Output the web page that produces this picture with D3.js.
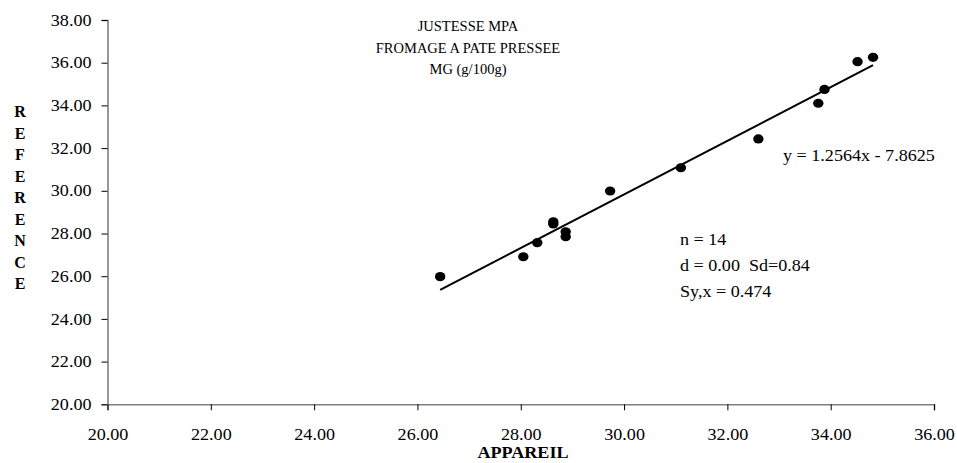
<!DOCTYPE html>
<html>
<head>
<meta charset="utf-8">
<script src="https://cdn.jsdelivr.net/npm/d3@7"></script>
<style>
  html, body { margin: 0; padding: 0; background: #fff; }
  svg { display: block; }
  text { font-family: "Liberation Serif", "Times New Roman", serif; fill: #000; }
</style>
</head>
<body>
<svg id="chart" width="957" height="463"></svg>
<script>
// ---- data ----
const appareil  = [26.44, 28.05, 28.32, 28.63, 28.63, 28.87, 28.87, 29.73, 31.10, 32.60, 33.76, 33.88, 34.52, 34.82];
const reference = [25.98, 26.91, 27.57, 28.45, 28.55, 28.08, 27.85, 29.99, 31.08, 32.43, 34.10, 34.75, 36.05, 36.25];
const xTicks = [20, 22, 24, 26, 28, 30, 32, 34, 36];
const yTicks = [20, 22, 24, 26, 28, 30, 32, 34, 36, 38];
const slope = 1.2564;
const intercept = -7.8625;
const titleLines = ["JUSTESSE MPA", "FROMAGE A PATE PRESSEE", "MG (g/100g)"];
const equationText = "y = 1.2564x - 7.8625";
const statsLines = ["n = 14", "d = 0.00  Sd=0.84", "Sy,x = 0.474"];
const xTitle = "APPAREIL";
const yTitle = "REFERENCE";

// ---- layout ----
const svg = d3.select("#chart");
const x = d3.scaleLinear().domain([20, 36]).range([107.5, 934]);
const y = d3.scaleLinear().domain([20, 38]).range([404.3, 20]);
const fmt = d3.format(".2f");
const axisColor = "#808080";

function stretch(sel, factor) {
  sel.each(function () {
    const w = this.getComputedTextLength();
    d3.select(this).attr("textLength", w * factor).attr("lengthAdjust", "spacingAndGlyphs");
  });
}

// y axis
const yAxis = svg.append("g")
  .attr("transform", `translate(${x(20)},0)`)
  .call(d3.axisLeft(y).tickValues(yTicks).tickFormat(fmt).tickSizeOuter(0).tickSize(6).tickPadding(10));
yAxis.select(".domain").attr("stroke", axisColor).attr("stroke-width", 1.6);
yAxis.selectAll(".tick line").attr("stroke", "#000").attr("stroke-width", 1);
yAxis.selectAll(".tick text").attr("font-size", 16).attr("font-family", "Liberation Serif").attr("fill", "#000");

// x axis
const xAxis = svg.append("g")
  .attr("transform", `translate(0,${y(20)})`)
  .call(d3.axisBottom(x).tickValues(xTicks).tickFormat(fmt).tickSizeOuter(0).tickSize(6).tickPadding(18));
xAxis.select(".domain").attr("stroke", axisColor).attr("stroke-width", 1.6);
xAxis.selectAll(".tick line").attr("stroke", "#000").attr("stroke-width", 1);
xAxis.selectAll(".tick text").attr("font-size", 16).attr("font-family", "Liberation Serif").attr("fill", "#000");

stretch(yAxis.selectAll(".tick text"), 1.13);
stretch(xAxis.selectAll(".tick text"), 1.13);

// trend line
const xMin = d3.min(appareil), xMax = d3.max(appareil);
svg.append("line")
  .attr("x1", x(xMin)).attr("y1", y(slope * xMin + intercept))
  .attr("x2", x(xMax)).attr("y2", y(slope * xMax + intercept))
  .attr("stroke", "#000").attr("stroke-width", 2);

// points
svg.append("g").selectAll("ellipse")
  .data(appareil.map((v, i) => [v, reference[i]]))
  .join("ellipse")
  .attr("cx", d => x(d[0])).attr("cy", d => y(d[1]))
  .attr("rx", 5.2).attr("ry", 4.6)
  .attr("fill", "#000");

// title
svg.append("g").selectAll("text")
  .data(titleLines)
  .join("text")
  .attr("x", 468).attr("y", (d, i) => 31 + i * 21.5)
  .attr("text-anchor", "middle").attr("font-size", 14.5)
  .text(d => d);

// equation
const eq = svg.append("text")
  .attr("x", 783).attr("y", 161)
  .attr("font-size", 16)
  .text(equationText);
stretch(eq, 1.13);

// stats
const st = svg.append("g").selectAll("text")
  .data(statsLines)
  .join("text")
  .attr("x", 680).attr("y", (d, i) => 245 + i * 26)
  .attr("font-size", 16)
  .attr("xml:space", "preserve")
  .style("white-space", "pre")
  .text(d => d);
stretch(st, 1.13);

// axis titles
const xt = svg.append("text")
  .attr("x", 523).attr("y", 458)
  .attr("text-anchor", "middle").attr("font-size", 16).attr("font-weight", "bold")
  .text(xTitle);
stretch(xt, 1.13);

svg.append("g").selectAll("text")
  .data(yTitle.split(""))
  .join("text")
  .attr("x", 20).attr("y", (d, i) => 117 + i * 21.5)
  .attr("text-anchor", "middle").attr("font-size", 16).attr("font-weight", "bold")
  .text(d => d);
</script>
</body>
</html>
